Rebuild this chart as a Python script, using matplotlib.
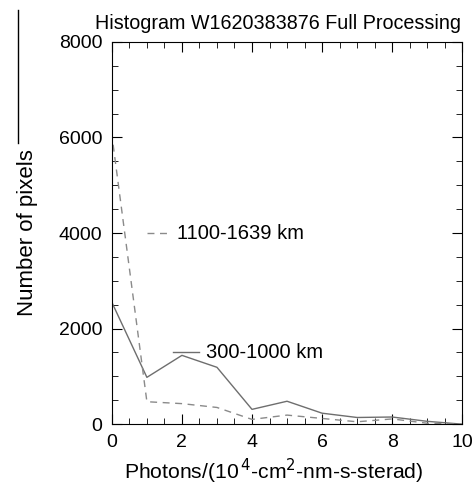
import matplotlib
matplotlib.use('Agg')
import matplotlib.pyplot as plt
from matplotlib.lines import Line2D
from matplotlib.ticker import MultipleLocator

plt.rcParams['font.family'] = ['Liberation Sans', 'DejaVu Sans']

photons = [0, 1, 2, 3, 4, 5, 6, 7, 8, 9, 10]
low_alt = [2550, 980, 1440, 1190, 310, 480, 230, 140, 150, 60, 0]      # 300-1000 km
high_alt = [6050, 470, 430, 350, 100, 190, 120, 50, 110, 20, 0]       # 1100-1639 km

fig = plt.figure(figsize=(4.76, 4.87), dpi=100)
ax = fig.add_axes([0.235, 0.129, 0.736, 0.785])

ax.plot(photons, low_alt, color='#6e6e6e', lw=1.0)
ax.plot(photons, high_alt, color='#8a8a8a', lw=1.0, ls=(2, (5, 4)))

# in-plot labels
ax.plot([1.0, 1.71], [4000, 4000], color='#8a8a8a', lw=1.0, ls=(0, (5, 4)))
ax.text(1.87, 4000, '1100-1639 km', fontsize=14.5, va='center')
ax.plot([1.74, 2.49], [1500, 1500], color='#6e6e6e', lw=1.0)
ax.text(2.69, 1500, '300-1000 km', fontsize=14.5, va='center')

ax.set_xlim(0, 10)
ax.set_ylim(0, 8000)
ax.xaxis.set_major_locator(MultipleLocator(2))
ax.xaxis.set_minor_locator(MultipleLocator(0.5))
ax.yaxis.set_major_locator(MultipleLocator(2000))
ax.yaxis.set_minor_locator(MultipleLocator(500))
ax.tick_params(which='both', direction='in', top=True, right=True, labelsize=14)
ax.tick_params(which='major', length=7, pad=7)
ax.tick_params(which='minor', length=4)

ax.set_title('Histogram W1620383876 Full Processing', fontsize=14.2, pad=9, x=0.475)
ax.set_xlabel('Photons/(10$^{\\,4}$-cm$^2$-nm-s-sterad)', fontsize=15.2, x=0.462, labelpad=4)
ax.set_ylabel('Number of pixels', fontsize=16, labelpad=15)

# stray line left of the y label
fig.add_artist(Line2D([18 / 476, 18 / 476], [1 - 10 / 487, 1 - 143 / 487],
                      transform=fig.transFigure, color='black', lw=1.0))

fig.savefig('out.png', dpi=100)
